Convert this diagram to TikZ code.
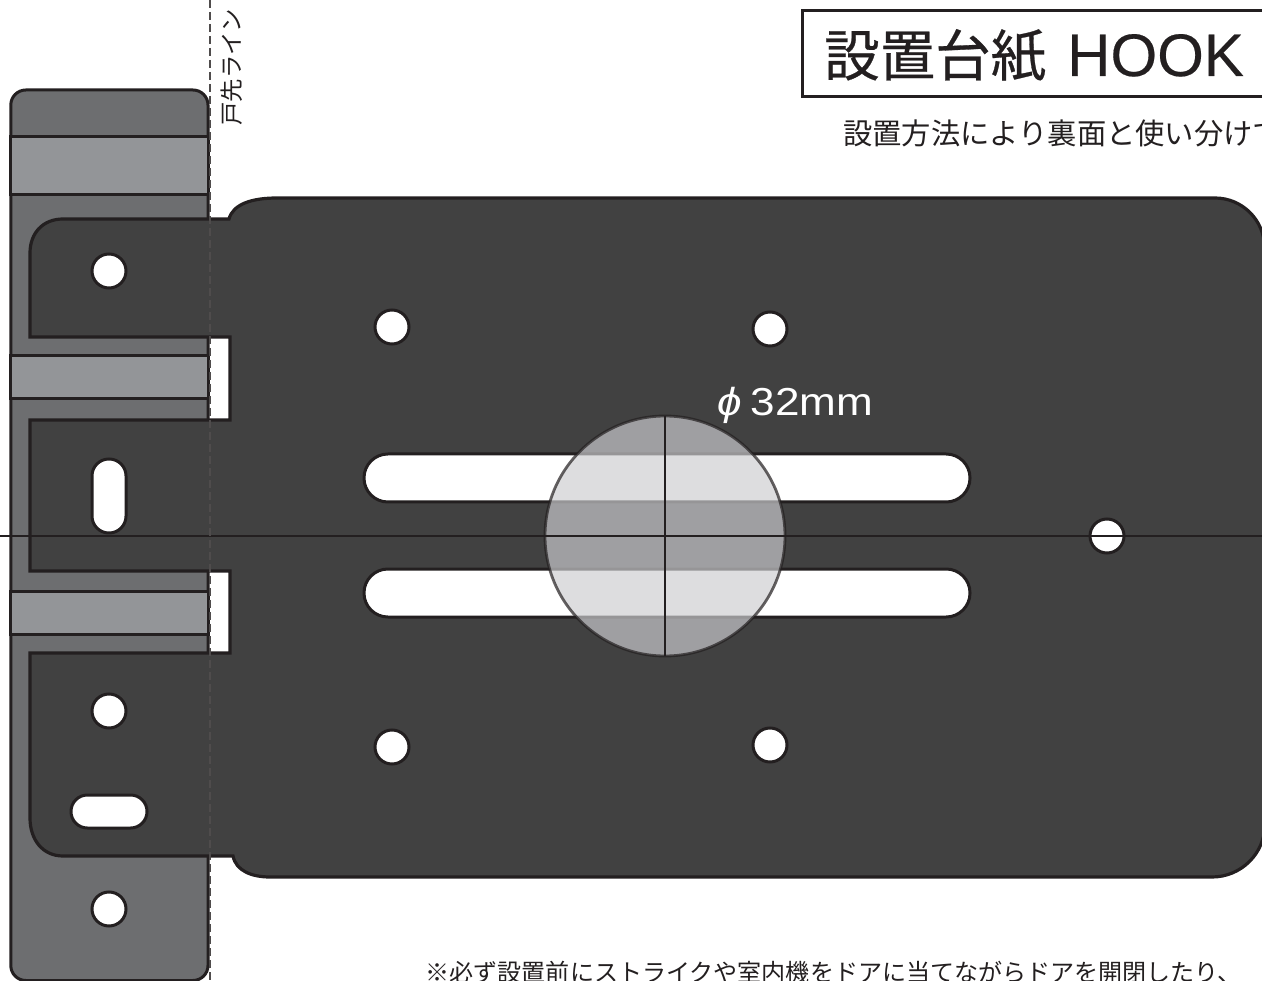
\documentclass[tikz,border=0pt]{standalone}
\usepackage{fontspec}
\setmainfont{Liberation Sans}
\newfontfamily\cjk{Noto Sans CJK JP}
\newfontfamily\cjktitle[FakeBold=0.5]{Noto Sans CJK JP}
\newfontfamily\hooktitle[FakeBold=0.3]{Liberation Sans}
\usetikzlibrary{positioning}

\tikzset{
    outline/.style={draw=myline, line width=3pt},
    hole/.style={outline, fill=white},
    titletext/.style={inner sep=0pt, anchor=base west, text=myline}
}

\begin{document}
\begin{tikzpicture}[x=1pt, y=-1pt]
    % Colours
    \definecolor{myline}{RGB}{35, 31, 32}
    \definecolor{myplate}{RGB}{65, 65, 65}
    \definecolor{mydoor}{RGB}{109, 110, 112}
    \definecolor{myband}{RGB}{147, 149, 152}
    \definecolor{mydisc}{RGB}{205, 205, 208}

    \useasboundingbox (0, 0) rectangle (1262, 981);
    \clip (0, 0) rectangle (1262, 981);

    % 1. Door edge strip with its three bands
    \draw[outline, fill=mydoor, rounded corners=15pt] (10.8, 90) rectangle (208, 980.5);
    \foreach \ya/\yb in {137/195, 356/399, 591/634} {
        \draw[outline, fill=myband] (10.8, \ya) rectangle (208, \yb);
    }

    % 2. Hook plate
    \draw[outline, line width=3.2pt, fill=myplate]
        (30, 253) .. controls (30, 233) and (43, 219) .. (63, 219)
        -- (229, 219) .. controls (233, 204) and (252, 198) .. (277, 198)
        -- (1215, 198) .. controls (1242.3, 198) and (1264.5, 220.2) .. (1264.5, 247.5)
        -- (1265, 824) .. controls (1265, 853.3) and (1241.3, 877) .. (1212, 877)
        -- (270, 877) .. controls (252, 877) and (236, 871) .. (233, 856)
        -- (63, 856) .. controls (43, 856) and (30, 840) .. (30, 818)
        -- (30, 653) -- (230, 653) -- (230, 571) -- (30, 571)
        -- (30, 420) -- (230, 420) -- (230, 337) -- (30, 337) -- cycle;

    % 3. Round holes
    \foreach \x/\y in {109/271, 392/327, 770/329, 392/747, 770/745, 109/711, 109/909, 1107/536} {
        \draw[hole] (\x, \y) circle[radius=17];
    }

    % 4. Slots
    \draw[hole, rounded corners=16.9pt] (92, 459) rectangle (126, 533);
    \draw[hole, rounded corners=16.4pt] (71, 795) rectangle (147, 828);
    \draw[hole, rounded corners=23.9pt] (364, 454) rectangle (970, 502);
    \draw[hole, rounded corners=23.9pt] (364, 569) rectangle (970, 617);

    % 5. Disc of 32 mm, see-through
    \draw[draw=myline, line width=2.8pt, draw opacity=0.7, fill=mydisc, fill opacity=0.68]
        (665, 536) circle[radius=120];

    % 6. Centre lines and door line
    \draw[myline, line width=1.5pt] (0, 536) -- (1262, 536);
    \draw[myline, line width=1.5pt] (665, 416) -- (665, 656);
    \draw[myline!80, line width=1.3pt, dash pattern=on 8pt off 4pt] (210, 0) -- (210, 981);

    % 7. Texts
    \draw[outline, fill=white] (802, 11) rectangle (1270, 97);
    \node[titletext] (title) at (824, 76) {\fontsize{55.5}{60}\selectfont\cjktitle 設置台紙\hspace{21pt}\fontsize{60}{60}\selectfont\hooktitle HOOK};
    \node[titletext] (subtitle) at (843, 145) {\fontsize{29.3}{32}\selectfont\cjk 設置方法により裏面と使い分けて};
    \node[titletext] (warning) at (425.5, 981.5) {\fontsize{24.05}{26}\selectfont\cjk ※必ず設置前にストライクや室内機をドアに当てながらドアを開閉したり、};
    \node[titletext, rotate=90] (doorline) at (240, 126) {\fontsize{23.4}{26}\selectfont\cjk 戸先ライン};
    \node[titletext, text=white, xscale=1.13] (diameter) at (717, 416) {\fontsize{39}{42}\selectfont\itshape ϕ\hspace{8pt}\upshape 32mm};
\end{tikzpicture}
\end{document}
